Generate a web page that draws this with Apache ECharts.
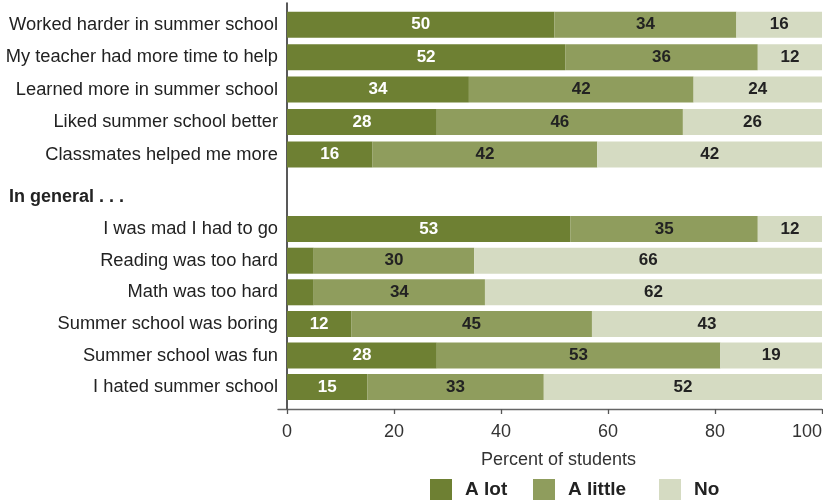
<!DOCTYPE html>
<html><head><meta charset="utf-8">
<script src="https://cdn.jsdelivr.net/npm/echarts@6/dist/echarts.min.js"></script>
<style>html,body{margin:0;padding:0;background:#fff}#c{width:823px;height:500px}</style>
</head><body><div id="c"></div>
<script>
// ---- data ----
const topCategories = ['Worked harder in summer school','My teacher had more time to help','Learned more in summer school','Liked summer school better','Classmates helped me more'];
const topALot = [50, 52, 34, 28, 16];
const topALittle = [34, 36, 42, 46, 42];
const topNo = [16, 12, 24, 26, 42];

const sectionHeading = 'In general . . .';
const bottomCategories = ['I was mad I had to go','Reading was too hard','Math was too hard','Summer school was boring','Summer school was fun','I hated summer school'];
const bottomALot = [53, 5, 5, 12, 28, 15];
const bottomALittle = [35, 30, 32, 45, 53, 33];
const bottomNo = [12, 65, 63, 43, 19, 52];
// printed labels (as shown in the source; '' = not printed)
const bottomALotLabels = ['53', '', '', '12', '28', '15'];
const bottomALittleLabels = ['35', '30', '34', '45', '53', '33'];
const bottomNoLabels = ['12', '66', '62', '43', '19', '52'];

const xTicks = [0, 20, 40, 60, 80, 100];
const xAxisTitle = 'Percent of students';
const seriesNames = ['A lot', 'A little', 'No'];

// ---- style ----
const FONT = "'Liberation Sans', Arial, Helvetica, sans-serif";
const colors = ['#6e8033', '#8f9d5d', '#d5dbc2'];
const labelColors = ['#ffffff', '#222222', '#222222'];

const chart = echarts.init(document.getElementById('c'), null, {renderer: 'canvas'});

function bar(name, idx, axis, data, labels) {
  return {
    type: 'bar', name: name, stack: 'g' + axis,
    xAxisIndex: axis, yAxisIndex: axis,
    data: data, barWidth: 26,
    itemStyle: {color: colors[idx]},
    label: {
      show: true, position: 'inside',
      fontFamily: FONT, fontSize: 17, fontWeight: 'bold', color: labelColors[idx],
      formatter: labels ? (p => labels[p.dataIndex]) : (p => String(p.value))
    },
    emphasis: {disabled: true},
    silent: true
  };
}

const legendBase = (name, left) => ({
  data: [name], left: left, top: 479, padding: 0,
  icon: 'rect', itemWidth: 22, itemHeight: 22,
  textStyle: {fontFamily: FONT, fontSize: 19, fontWeight: 'bold', color: '#222', padding: [0, 0, 0, 8]},
  selectedMode: false
});

const option = {
  animation: false,
  textStyle: {fontFamily: FONT},
  title: {
    text: sectionHeading, left: 9, top: 188, padding: 0,
    textStyle: {fontFamily: FONT, fontSize: 18, fontWeight: 'bold', color: '#222'}
  },
  legend: [legendBase(seriesNames[0], 430), legendBase(seriesNames[1], 533), legendBase(seriesNames[2], 659)],
  grid: [
    {left: 287, width: 535, top: 8.5, height: 162.2, outerBoundsMode: 'none'},
    {left: 287, width: 535, top: 213.3, height: 189.6, outerBoundsMode: 'none'},
    {left: 287, width: 535, top: 3, height: 406, outerBoundsMode: 'none'},
    {left: 278, width: 544, top: 3, height: 406, outerBoundsMode: 'none'}
  ],
  xAxis: [
    {gridIndex: 0, type: 'value', min: 0, max: 100, show: false},
    {gridIndex: 1, type: 'value', min: xTicks[0], max: xTicks[xTicks.length - 1], interval: 20, offset: 6.1,
      axisLine: {show: false},
      axisTick: {show: true, length: 5, lineStyle: {color: '#555', width: 1.3}},
      axisLabel: {fontFamily: FONT, fontSize: 18, color: '#333', margin: 14, alignMaxLabel: 'right'},
      splitLine: {show: false},
      name: xAxisTitle, nameLocation: 'middle', nameGap: 42,
      nameTextStyle: {fontFamily: FONT, fontSize: 18, color: '#333', padding: [0, 0, 0, 8]}
    },
    {gridIndex: 2, type: 'value', min: 0, max: 1, show: false},
    {gridIndex: 3, type: 'value', min: 0, max: 1,
      axisLine: {show: true, lineStyle: {color: '#666', width: 1.4}},
      axisTick: {show: false}, axisLabel: {show: false}, splitLine: {show: false}}
  ],
  yAxis: [
    {gridIndex: 0, type: 'category', data: topCategories, inverse: true,
      axisLine: {show: false}, axisTick: {show: false},
      axisLabel: {fontFamily: FONT, fontSize: 18.3, color: '#222', margin: 9}},
    {gridIndex: 1, type: 'category', data: bottomCategories, inverse: true,
      axisLine: {show: false}, axisTick: {show: false},
      axisLabel: {fontFamily: FONT, fontSize: 18.3, color: '#222', margin: 9}},
    {gridIndex: 2, type: 'value', min: 0, max: 1,
      axisLine: {show: true, lineStyle: {color: '#222', width: 1.5}},
      axisTick: {show: false}, axisLabel: {show: false}, splitLine: {show: false}},
    {gridIndex: 3, type: 'value', min: 0, max: 1, show: false}
  ],
  series: [
    bar(seriesNames[0], 0, 0, topALot),
    bar(seriesNames[1], 1, 0, topALittle),
    bar(seriesNames[2], 2, 0, topNo),
    bar(seriesNames[0], 0, 1, bottomALot, bottomALotLabels),
    bar(seriesNames[1], 1, 1, bottomALittle, bottomALittleLabels),
    bar(seriesNames[2], 2, 1, bottomNo, bottomNoLabels)
  ]
};
chart.setOption(option);
</script></body></html>
